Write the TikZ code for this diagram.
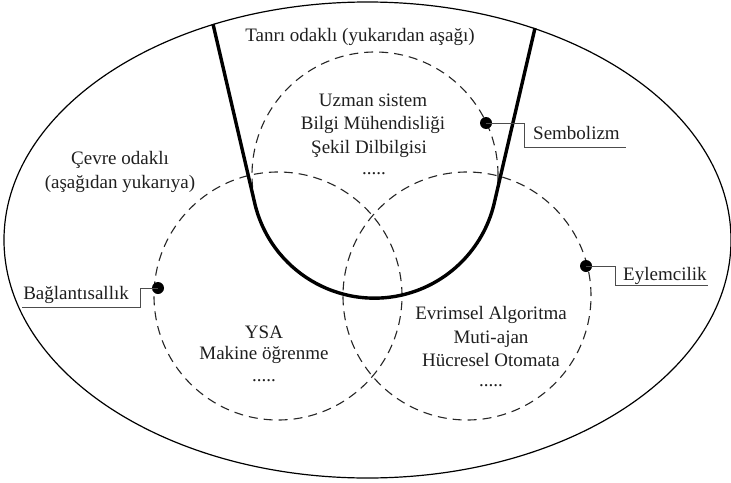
\documentclass[tikz,border=0pt]{standalone}
\usepackage{fontspec}
\setmainfont{Liberation Serif}
\begin{document}
\begin{tikzpicture}[x=1pt,y=1pt,
  lbl/.style={anchor=base, inner sep=0pt, text=black!88, font=\fontsize{19}{23}\selectfont},
  dashcirc/.style={draw=black!85, line width=1.1pt, dash pattern=on 9pt off 6pt},
  dotmark/.style={circle, fill=black, inner sep=0pt, minimum size=12pt},
  callout/.style={draw=black!70, line width=0.9pt},
  thickline/.style={draw=black, line width=3.4pt, line join=round}
]
\useasboundingbox (0,0) rectangle (731,-482);
\fill[white] (0,0) rectangle (731,-482);

% outer ellipse
\draw[line width=1.2pt] (367.5,-240) ellipse [x radius=363.5, y radius=238];

% dashed circles
\node[dashcirc, circle, minimum size=246pt, inner sep=0pt] (top) at (375,-175) {};
\node[dashcirc, circle, minimum size=248pt, inner sep=0pt] (left) at (278,-296) {};
\node[dashcirc, circle, minimum size=248pt, inner sep=0pt] (right) at (467,-296) {};

% thick U
\coordinate (ul) at (213,-24);
\coordinate (ur) at (535,-28);
\draw[thickline] (ul) -- (top.194) arc[start angle=194, end angle=346, radius=123] -- (ur);

% texts
\node[lbl] (tanri) at (360,-41) {Tanrı odaklı (yukarıdan aşağı)};
\node[lbl] (t1) at (373,-106) {Uzman sistem};
\node[lbl] (t2) at (373,-129) {Bilgi Mühendisliği};
\node[lbl] (t3) at (369,-153) {Şekil Dilbilgisi};
\node[lbl] (t4) at (374,-174) {.....};

\node[lbl] (c1) at (120,-164) {Çevre odaklı};
\node[lbl] (c2) at (120,-188) {(aşağıdan yukarıya)};

\node[lbl] (y1) at (264,-338) {YSA};
\node[lbl] (y2) at (264,-359) {Makine öğrenme};
\node[lbl] (y3) at (264,-381) {.....};

\node[lbl] (e1) at (491,-319) {Evrimsel Algoritma};
\node[lbl] (e2) at (491,-343) {Muti-ajan};
\node[lbl] (e3) at (491,-366) {Hücresel Otomata};
\node[lbl] (e4) at (491,-386) {.....};

% callouts
\node[dotmark] (sdot) at (486,-123) {};
\node[lbl, anchor=base west] (sem) at (533,-139) {Sembolizm};
\coordinate (s1) at (524,-147);
\coordinate (s2) at (626,-147);
\draw[callout] (sdot.center) -| (s1) -- (s2);

\node[dotmark] (bdot) at (158,-288) {};
\node[lbl, anchor=base east] (bag) at (129,-299) {Bağlantısallık};
\coordinate (b1) at (140,-307);
\coordinate (b2) at (22,-307);
\draw[callout] (bdot.center) -| (b1) -- (b2);

\node[dotmark] (edot) at (586,-266) {};
\node[lbl, anchor=base west] (eyl) at (623,-280) {Eylemcilik};
\coordinate (e1c) at (615,-285);
\coordinate (e2c) at (708,-285);
\draw[callout] (edot.center) -| (e1c) -- (e2c);
\end{tikzpicture}
\end{document}
